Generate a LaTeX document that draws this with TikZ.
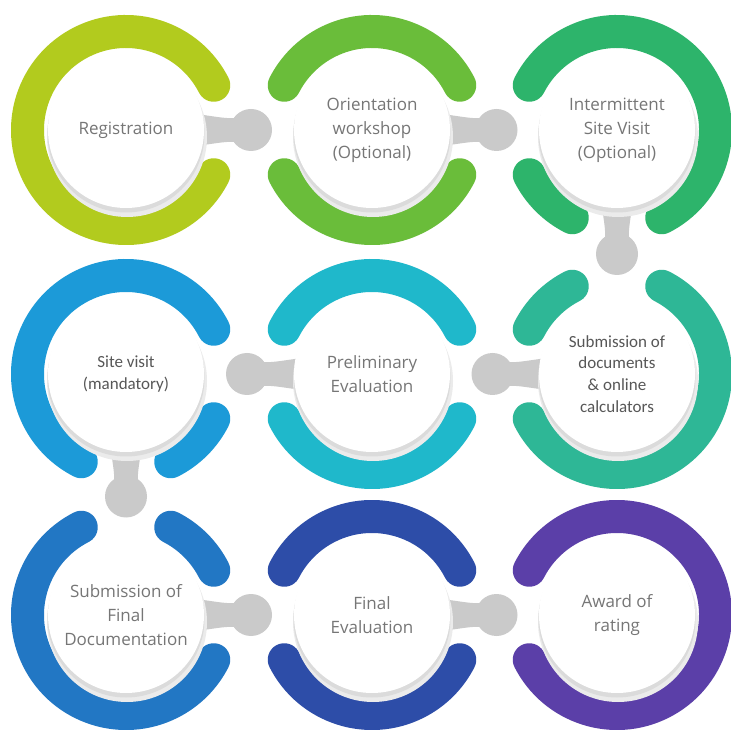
\documentclass[tikz,border=0pt]{standalone}
\usepackage{fontspec}
\setmainfont{Carlito}
\newfontfamily\blurfont{Open Sans}
\usetikzlibrary{calc}
\definecolor{cAA}{HTML}{B2CB1E}
\definecolor{cAB}{HTML}{6ABD3A}
\definecolor{cAC}{HTML}{2DB46B}
\definecolor{cBA}{HTML}{1C9AD8}
\definecolor{cBB}{HTML}{1FB8CB}
\definecolor{cBC}{HTML}{2EB796}
\definecolor{cCA}{HTML}{2277C4}
\definecolor{cCB}{HTML}{2D4DA8}
\definecolor{cCC}{HTML}{5B3FA8}
\definecolor{txtgray}{HTML}{767676}
\definecolor{crispgray}{HTML}{575757}
\definecolor{conngray}{HTML}{CACACA}
\tikzset{
  ringarc/.style={line width=33pt, line cap=round},
  disk/.style={circle, fill=white, minimum size=156pt, inner sep=0pt, align=center,
    text=txtgray, font=\blurfont\fontsize{17}{24}\selectfont},
  crisp/.style={text=crispgray, font=\fontsize{17}{21.7}\selectfont},
  conn/.style={fill=conngray},
  diskshadow/.style={fill=black!14},
}
\newcommand\ringpart[4]{\draw[ringarc,#4] (#1) ++(#2:98.5) arc[start angle=#2, end angle=#3, radius=98.5];}
\newcommand\linkshape[3]{%
  \begin{scope}[shift={(#1)}, rotate=#2]
    \fill[conn] (62,-17) .. controls (88,-14) and (98,-11) .. (#3-12,-12) -- (#3-12,12)
      .. controls (98,11) and (88,14) .. (62,17) -- cycle;
    \fill[conn] (#3+2,0) circle (21);
  \end{scope}}
\newcommand\diskshade[1]{%
  \fill[black!8] ($(#1)+(1,-7)$) circle (80);
  \fill[diskshadow] ($(#1)+(0,-4)$) circle (78.5);}
\begin{document}
\begin{tikzpicture}[x=1pt,y=1pt]
\useasboundingbox (0,0) rectangle (731,729);
\clip (0,0) rectangle (731,729);
\fill[white] (0,0) rectangle (731,729);
% centres
\coordinate (p11) at (126,599);
\coordinate (p12) at (372,599);
\coordinate (p13) at (617,599);
\coordinate (p21) at (126,355);
\coordinate (p22) at (372,355);
\coordinate (p23) at (617,355);
\coordinate (p31) at (126,114);
\coordinate (p32) at (372,114);
\coordinate (p33) at (617,114);
% rings
\ringpart{p11}{27}{333}{cAA}
\ringpart{p12}{27}{153}{cAB}
\ringpart{p12}{207}{333}{cAB}
\ringpart{p13}{-63}{153}{cAC}
\ringpart{p13}{207}{243}{cAC}
\ringpart{p23}{117}{153}{cBC}
\ringpart{p23}{207}{423}{cBC}
\ringpart{p22}{27}{153}{cBB}
\ringpart{p22}{207}{333}{cBB}
\ringpart{p21}{27}{243}{cBA}
\ringpart{p21}{297}{333}{cBA}
\ringpart{p31}{27}{63}{cCA}
\ringpart{p31}{117}{333}{cCA}
\ringpart{p32}{27}{153}{cCB}
\ringpart{p32}{207}{333}{cCB}
\ringpart{p33}{-153}{153}{cCC}
% connectors
\linkshape{p11}{0}{123}
\linkshape{p12}{0}{122.5}
\linkshape{p13}{-90}{122}
\linkshape{p23}{180}{122.5}
\linkshape{p22}{180}{123}
\linkshape{p21}{-90}{120.5}
\linkshape{p31}{0}{123}
\linkshape{p32}{0}{122.5}
% disk shadows
\foreach \p in {p11,p12,p13,p21,p22,p23,p31,p32,p33}{\diskshade{\p}}
% disks with text
\node[disk] (n11) at (p11) {Registration};
\node[disk] (n12) at (p12) {Orientation\\workshop\\(Optional)};
\node[disk] (n13) at (p13) {Intermittent\\Site Visit\\(Optional)};
\node[disk,crisp] (n21) at (p21) {Site visit\\(mandatory)};
\node[disk] (n22) at (p22) {Preliminary\\Evaluation};
\node[disk,crisp] (n23) at (p23) {Submission of\\documents\\\& online\\calculators};
\node[disk] (n31) at (p31) {Submission of\\Final\\Documentation};
\node[disk] (n32) at (p32) {Final\\Evaluation};
\node[disk] (n33) at (p33) {Award of\\rating};
\end{tikzpicture}
\end{document}
